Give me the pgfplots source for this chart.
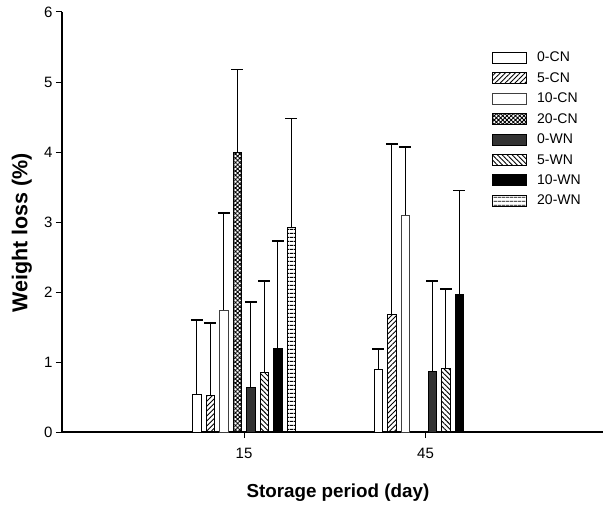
\documentclass[border=0pt]{standalone}
\usepackage{fontspec}
\setmainfont{Liberation Sans}
\usepackage{pgfplots}
\pgfplotsset{compat=1.18}
\usetikzlibrary{patterns.meta}

% weight loss (%) with upper error, x: 0 = day 15, 1 = day 45
\pgfplotstableread{
x y e
0 0.54 1.06
1 0.89 0.30
}\cnzero
\pgfplotstableread{
x y e
0 0.52 1.04
1 1.68 2.43
}\cnfive
\pgfplotstableread{
x y e
0 1.74 1.39
1 3.10 0.97
}\cnten
\pgfplotstableread{
x y e
0 4.00 1.18
}\cntwenty
\pgfplotstableread{
x y e
0 0.64 1.22
1 0.87 1.29
}\wnzero
\pgfplotstableread{
x y e
0 0.85 1.31
1 0.91 1.13
}\wnfive
\pgfplotstableread{
x y e
0 1.20 1.53
1 1.96 1.49
}\wnten
\pgfplotstableread{
x y e
0 2.92 1.56
}\wntwenty

\begin{document}
\begin{tikzpicture}
\begin{axis}[
  at={(62pt,72pt)}, anchor=south west,
  width=541pt, height=420pt, scale only axis,
  xmin=-1.003, xmax=1.978, ymin=0, ymax=6,
  axis x line*=bottom, axis y line*=left,
  axis line style={line width=1.3pt, -},
  xtick={0,1}, xticklabels={15,45},
  ytick={0,1,2,3,4,5,6},
  tick align=outside, major tick length=6pt,
  tick style={line width=1pt, black},
  tick label style={font=\fontsize{15}{17}\selectfont},
  /pgf/number format/assume math mode=true,
  xticklabel style={yshift=-7pt},
  xlabel={Storage period (day)},
  ylabel={Weight loss (\%)},
  xlabel style={font=\fontsize{18.8}{21}\selectfont\bfseries,
    at={(axis description cs:0.510,-0.145)}, anchor=center},
  ylabel style={font=\fontsize{21.5}{23}\selectfont\bfseries,
    at={(axis description cs:-0.074,0.474)}, anchor=center},
  ybar, bar width=0.0468,
  every axis plot/.append style={draw=black, line width=0.9pt},
  error bars/y dir=plus, error bars/y explicit,
  error bars/error bar style={line width=0.9pt, black, solid},
  error bars/error mark options={rotate=90, mark size=6pt, line width=1.8pt, black},
  legend image code/.code={\draw[#1, line width=0.9pt] (0pt,-5.5pt) rectangle (34pt,5.5pt);},
  legend style={draw=none, fill=none, at={(axis description cs:0.795,0.91)},
    anchor=north west, font=\fontsize{14}{16}\selectfont, row sep=5.2pt,
    inner sep=0pt, cells={anchor=west},
    /tikz/every odd column/.append style={column sep=8pt}},
]
\addplot[fill=white, bar shift=-0.2604] table[x=x,y=y,y error=e] {\cnzero};
\addlegendentry{0-CN}
\addplot[pattern={Lines[angle=45,distance=3.5pt,line width=0.9pt]}, bar shift=-0.1860] table[x=x,y=y,y error=e] {\cnfive};
\addlegendentry{5-CN}
\addplot[fill=white, draw=black!75, bar shift=-0.1116] table[x=x,y=y,y error=e] {\cnten};
\addlegendentry{10-CN}
\addplot[pattern={Hatch[angle=45,distance=3pt,line width=0.9pt]}, bar shift=-0.0372] table[x=x,y=y,y error=e] {\cntwenty};
\addlegendentry{20-CN}
\addplot[fill=black!80, bar shift=0.0372] table[x=x,y=y,y error=e] {\wnzero};
\addlegendentry{0-WN}
\addplot[pattern={Lines[angle=-45,distance=3.5pt,line width=0.9pt]}, bar shift=0.1116] table[x=x,y=y,y error=e] {\wnfive};
\addlegendentry{5-WN}
\addplot[fill=black, bar shift=0.1860] table[x=x,y=y,y error=e] {\wnten};
\addlegendentry{10-WN}
\addplot[pattern={Lines[angle=0,distance=4pt,line width=1pt]}, bar shift=0.2604] table[x=x,y=y,y error=e] {\wntwenty};
\addlegendentry{20-WN}
\end{axis}
\pgfresetboundingbox
\useasboundingbox (0,0) rectangle (604pt,504pt);
\end{tikzpicture}
\end{document}
